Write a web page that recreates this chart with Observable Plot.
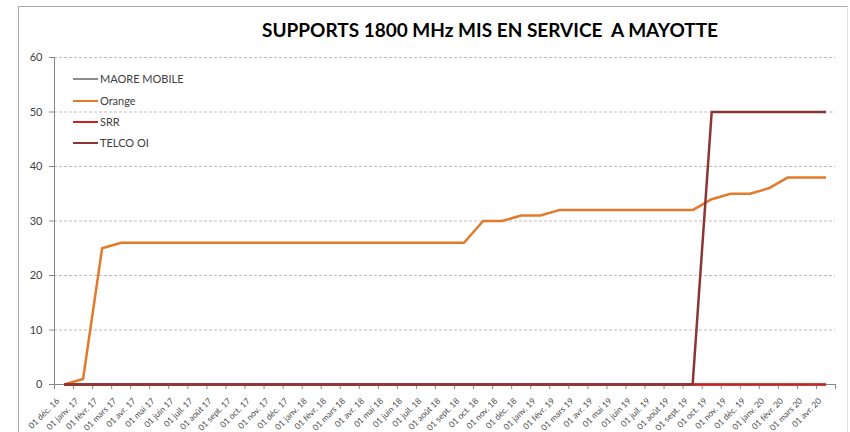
<!DOCTYPE html>
<html>
<head>
<meta charset="utf-8">
<script src="https://cdn.jsdelivr.net/npm/d3@7"></script>
<script src="https://cdn.jsdelivr.net/npm/@observablehq/plot@0.6"></script>
<style>
  html, body { margin: 0; padding: 0; background: #fff; overflow: hidden; }
  #wrap { position: relative; width: 850px; height: 432px; font-family: Lato, "Open Sans", sans-serif; }
  #titlebar { position: relative; height: 50px; }
  #title { position: absolute; left: 490px; top: 20px; white-space: nowrap; font-weight: bold; font-size: 19px; line-height: 20px; color: #000; transform-origin: center; }
  #border { position: absolute; left: 18px; top: 6px; width: 828px; height: 440px; border-top: 1px solid #a8a8a8; border-left: 1px solid #a8a8a8; border-right: 1px solid #e2e2e2; pointer-events: none; }
  .leg { position: absolute; left: 73px; height: 14px; line-height: 14px; font-size: 11px; color: #404040; white-space: nowrap; }
  .leg i { display: inline-block; width: 25px; height: 2.5px; vertical-align: middle; margin-right: 2px; position: relative; top: -1px; }
  #chart svg { display: block; }
</style>
</head>
<body>
<div id="wrap">
  <div id="titlebar"><span id="title">SUPPORTS 1800 MHz MIS EN SERVICE&nbsp; A MAYOTTE</span></div>
  <div id="chart"></div>
  <div id="legend"></div>
  <div id="border"></div>
</div>
<script>
const months = ["01 déc. 16","01 janv. 17","01 févr. 17","01 mars 17","01 avr. 17","01 mai 17","01 juin 17","01 juil. 17","01 août 17","01 sept. 17","01 oct. 17","01 nov. 17","01 déc. 17","01 janv. 18","01 févr. 18","01 mars 18","01 avr. 18","01 mai 18","01 juin 18","01 juil. 18","01 août 18","01 sept. 18","01 oct. 18","01 nov. 18","01 déc. 18","01 janv. 19","01 févr. 19","01 mars 19","01 avr. 19","01 mai 19","01 juin 19","01 juil. 19","01 août 19","01 sept. 19","01 oct. 19","01 nov. 19","01 déc. 19","01 janv. 20","01 févr. 20","01 mars 20","01 avr. 20"];

const maoreMobile = [0,0,0,0,0,0,0,0,0,0,0,0,0,0,0,0,0,0,0,0,0,0,0,0,0,0,0,0,0,0,0,0,0,0,0,0,0,0,0,0,0];
const orange      = [0,1,25,26,26,26,26,26,26,26,26,26,26,26,26,26,26,26,26,26,26,26,30,30,31,31,32,32,32,32,32,32,32,32,34,35,35,36,38,38,38];
const srr         = [0,0,0,0,0,0,0,0,0,0,0,0,0,0,0,0,0,0,0,0,0,0,0,0,0,0,0,0,0,0,0,0,0,0,0,0,0,0,0,0,0];
const telcoOi     = [0,0,0,0,0,0,0,0,0,0,0,0,0,0,0,0,0,0,0,0,0,0,0,0,0,0,0,0,0,0,0,0,0,0,50,50,50,50,50,50,50];

const seriesNames  = ["MAORE MOBILE", "Orange", "SRR", "TELCO OI"];
const seriesValues = [maoreMobile, orange, srr, telcoOi];
const seriesColors = ["#8c8c8c", "#e27a2a", "#cc2222", "#8b3535"];
const yTicks = [0, 10, 20, 30, 40, 50, 60];

const rows = [];
seriesNames.forEach((name, s) => {
  seriesValues[s].forEach((v, i) => rows.push({series: name, idx: i, month: months[i], value: v}));
});
const bounds = d3.range(months.length + 1).map(i => i - 0.5);

const chart = Plot.plot({
  width: 850,
  height: 382,
  marginLeft: 54,
  marginRight: 15,
  marginTop: 7,
  marginBottom: 48,
  style: {fontFamily: "Lato, 'Open Sans', sans-serif", background: "#fff", overflow: "visible"},
  x: {domain: [-0.5, months.length - 0.5], axis: null},
  y: {domain: [0, 60], axis: null},
  color: {domain: seriesNames, range: seriesColors},
  marks: [
    Plot.gridY(yTicks.filter(t => t > 0), {stroke: "#bdbdbd", strokeOpacity: 1, strokeDasharray: "3,2"}),
    Plot.axisY({ticks: yTicks, tickSize: 5, tickPadding: 7, fontSize: 11, stroke: "#868686", fill: "#404040", label: null}),
    Plot.ruleX([-0.5], {stroke: "#868686"}),
    Plot.ruleY([0], {stroke: "#868686"}),
    Plot.axisX({ticks: bounds, tickSize: 5, tickFormat: () => "", stroke: "#868686", label: null}),
    Plot.text(months, {x: (d, i) => i, y: () => 0, text: d => d, rotate: -45, textAnchor: "end", dx: -6, dy: 15, fontSize: 8.5, fill: "#4a4a4a"}),
    Plot.line(rows, {x: "idx", y: "value", z: "series", stroke: "series", strokeWidth: 2.5, strokeLinejoin: "round", strokeLinecap: "butt"})
  ]
});
document.getElementById("chart").appendChild(chart);

// legend
const leg = document.getElementById("legend");
const legCenters = [79, 101, 122, 143];
seriesNames.forEach((name, s) => {
  const d = document.createElement("div");
  d.className = "leg";
  d.style.top = (legCenters[s] - 7) + "px";
  d.innerHTML = `<i style="background:${seriesColors[s]}"></i>${name}`;
  leg.appendChild(d);
});

// title width fit
const t = document.getElementById("title");
const w = t.getBoundingClientRect().width;
const k = 456 / w;
t.style.transform = `translateX(-50%) scaleX(${k})`;
</script>
</body>
</html>
